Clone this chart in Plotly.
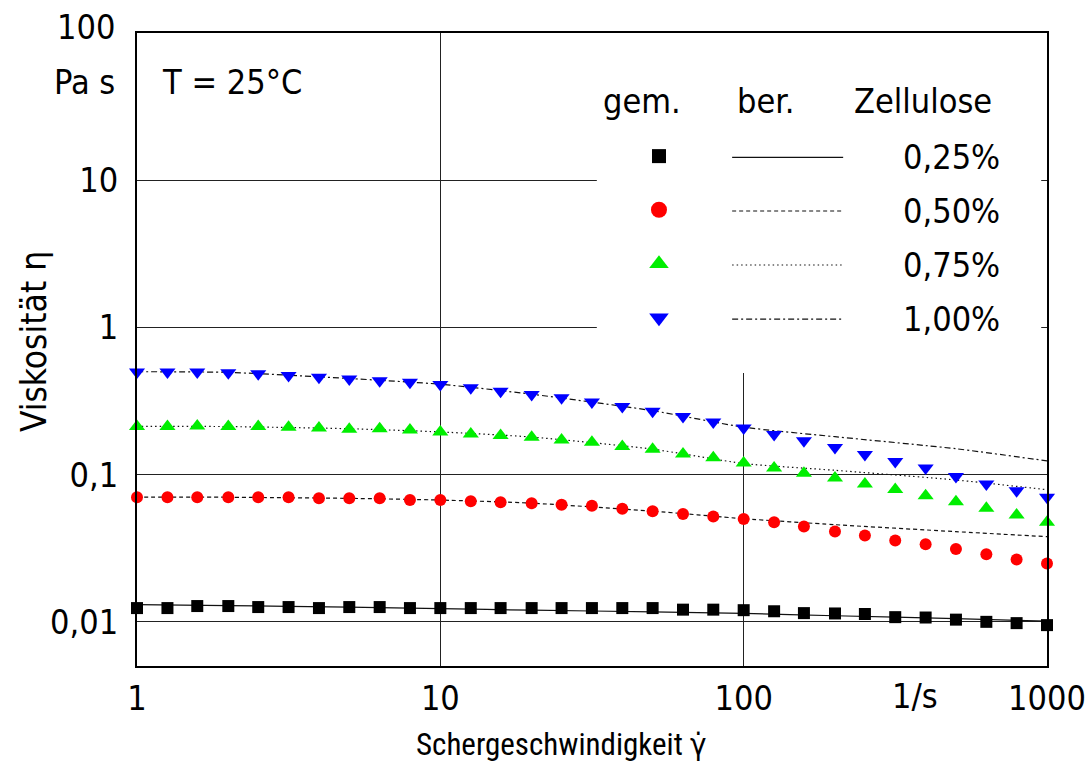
import plotly.graph_objects as go

# ---------------- data ----------------
shear_rate = [1, 1.26, 1.58, 2, 2.51, 3.16, 3.98, 5.01, 6.31, 7.94,
              10, 12.6, 15.8, 20, 25.1, 31.6, 39.8, 50.1, 63.1, 79.4,
              100, 126, 158, 200, 251, 316, 398, 501, 631, 794, 1000]

meas_025 = [0.0124, 0.0124, 0.0128, 0.0128, 0.0126, 0.0126, 0.0124, 0.0126, 0.0126, 0.0124,
            0.0124, 0.0124, 0.0124, 0.0124, 0.0124, 0.0124, 0.0124, 0.0124, 0.0121, 0.0121,
            0.0120, 0.0118, 0.01146, 0.0114, 0.0113, 0.01076, 0.0107, 0.01035, 0.0100, 0.0098, 0.0095]
meas_050 = [0.0701, 0.0701, 0.0701, 0.0701, 0.0701, 0.0701, 0.0690, 0.0690, 0.0690, 0.0673,
            0.0673, 0.0659, 0.0649, 0.0639, 0.0625, 0.0615, 0.0587, 0.0563, 0.0540, 0.0520,
            0.0500, 0.0475, 0.0445, 0.0411, 0.0386, 0.0357, 0.0337, 0.0312, 0.0288, 0.0265, 0.0249]
meas_075 = [0.212, 0.212, 0.214, 0.212, 0.212, 0.210, 0.207, 0.203, 0.205, 0.201,
            0.195, 0.189, 0.1846, 0.1797, 0.172, 0.166, 0.155, 0.1486, 0.138, 0.130,
            0.120, 0.111, 0.102, 0.0948, 0.0863, 0.0794, 0.0719, 0.0655, 0.0590, 0.0532, 0.0474]
meas_100 = [0.497, 0.497, 0.497, 0.492, 0.485, 0.472, 0.459, 0.447, 0.435, 0.424,
            0.409, 0.389, 0.369, 0.350, 0.333, 0.311, 0.290, 0.270, 0.248, 0.228,
            0.207, 0.187, 0.170, 0.153, 0.137, 0.123, 0.111, 0.0973, 0.0863, 0.0778, 0.0701]

calc_rate = [1, 2, 5, 10, 20, 50, 100, 200, 500, 1000]
calc_025 = [0.0131, 0.0129, 0.0126, 0.0123, 0.0120, 0.0117, 0.0114, 0.0110, 0.0105, 0.0101]
calc_050 = [0.0703, 0.0702, 0.0690, 0.0672, 0.0640, 0.0565, 0.0502, 0.0457, 0.0410, 0.0379]
calc_075 = [0.213, 0.212, 0.205, 0.195, 0.180, 0.149, 0.119, 0.107, 0.092, 0.079]
calc_100 = [0.500, 0.495, 0.450, 0.411, 0.352, 0.272, 0.210, 0.181, 0.150, 0.124]

labels = ["0,25%", "0,50%", "0,75%", "1,00%"]
x_ticks = [1, 10, 100, 1000]
x_ticktext = ["1", "10", "100", "1000"]
y_ticks = [0.01, 0.1, 1, 10, 100]
y_ticktext = ["0,01", "0,1", "1", "10", ""]   # "100" is placed as a text slightly above its tick

# ---------------- styles ----------------
FONT = "DejaVu Sans Condensed, DejaVu Sans, sans-serif"
FONT_NARROW = "Roboto Condensed, DejaVu Sans Condensed, sans-serif"
FS = 34
colors = ["#000000", "#ff0000", "#00ee00", "#0000ff"]
symbols = ["square", "circle", "triangle-up", "triangle-down"]
msizes = [12, 12, 14, 14]
leg_msizes = [14, 16, 17, 17]
dashes = ["solid", "4px,3px", "1.5px,3px", "6px,3px,2px,3px"]

meas = [meas_025, meas_050, meas_075, meas_100]
calc = [calc_025, calc_050, calc_075, calc_100]

fig = go.Figure()

for i in range(4):
    fig.add_trace(go.Scatter(
        x=calc_rate, y=calc[i], mode="lines",
        line=dict(color="#111111", width=1.2, dash=dashes[i], shape="spline", smoothing=0.6),
        showlegend=False, hoverinfo="skip"))
for i in range(4):
    fig.add_trace(go.Scatter(
        x=shear_rate, y=meas[i], mode="markers",
        marker=dict(symbol=symbols[i], size=msizes[i], color=colors[i], line=dict(width=0)),
        showlegend=False, cliponaxis=False))

# ---------------- custom legend (overlay axes 0..1) ----------------
leg_rows = [0.8035, 0.7188, 0.6335, 0.548]
leg_marker_x = 0.5736
for i in range(4):
    fig.add_trace(go.Scatter(
        x=[leg_marker_x], y=[leg_rows[i] + 0.002], mode="markers",
        marker=dict(symbol=symbols[i], size=leg_msizes[i], color=colors[i], line=dict(width=0)),
        xaxis="x2", yaxis="y2", showlegend=False, hoverinfo="skip"))

shapes = []
# white box of the legend region hides the grid
shapes.append(dict(type="rect", xref="x", yref="y", x0=32.8, x1=957, y0=0.49, y1=100,
                   fillcolor="white", line=dict(width=0), layer="between"))
for i in range(4):
    shapes.append(dict(type="line", xref="paper", yref="paper",
                       x0=0.654, x1=0.776, y0=leg_rows[i], y1=leg_rows[i],
                       line=dict(color="#111111", width=1.2, dash=dashes[i])))

annotations = []
def txt(s, x, y, xanchor="center", yanchor="middle", angle=0, size=FS, family=FONT):
    annotations.append(dict(text=s, x=x, y=y, xref="paper", yref="paper",
                            xanchor=xanchor, yanchor=yanchor, showarrow=False,
                            textangle=angle, font=dict(family=family, size=size, color="black")))

txt("gem.", 0.555, 0.8926)
txt("ber.", 0.691, 0.8926)
txt("Zellulose", 0.8637, 0.8926)
for i in range(4):
    txt(labels[i], 0.9505, leg_rows[i], xanchor="right")
txt("T = 25°C", 0.0253, 0.9226, xanchor="left")
txt("Pa s", -0.022, 0.9226, xanchor="right")
txt("100", -0.022, 1.0095, xanchor="right")
txt("1/s", 0.855, -0.047)
txt("Viskosität η", -0.113, 0.512, angle=-90, size=35)
txt("Schergeschwindigkeit γ̇", 0.466, -0.1248, size=31, family=FONT_NARROW)

fig.update_layout(
    width=1091, height=769,
    margin=dict(l=137, r=44, t=33, b=103, autoexpand=False),
    paper_bgcolor="white", plot_bgcolor="white",
    font=dict(family=FONT, size=FS, color="black"),
    shapes=shapes, annotations=annotations,
    xaxis=dict(type="log", range=[0, 3], tickvals=x_ticks, ticktext=x_ticktext,
               showgrid=True, gridcolor="#222222", gridwidth=1.3,
               showline=True, linecolor="black", linewidth=2, mirror=True,
               ticks="", ticklabelstandoff=1, zeroline=False, automargin=False,
               ticklabeloverflow="allow",
               tickfont=dict(family=FONT, size=FS)),
    yaxis=dict(type="log", range=[-2.3, 2.0], tickvals=y_ticks, ticktext=y_ticktext,
               showgrid=True, gridcolor="#222222", gridwidth=1.3,
               showline=True, linecolor="black", linewidth=2, mirror=True,
               ticks="", ticklabelstandoff=10, zeroline=False, automargin=False,
               tickfont=dict(family=FONT, size=FS)),
    xaxis2=dict(overlaying="x", range=[0, 1], visible=False, fixedrange=True),
    yaxis2=dict(overlaying="y", range=[0, 1], visible=False, fixedrange=True),
    showlegend=False,
)

# remove the default 8px body margin of the page so the figure sits at (0, 0)
fig.write_html("out.html",
               config={"displayModeBar": False},
               post_script="document.body.style.margin='0';document.body.style.overflow='hidden';")
